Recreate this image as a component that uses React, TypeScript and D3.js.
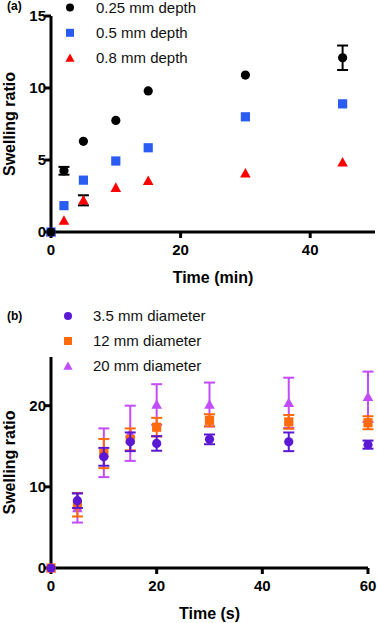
import React from "react";
import * as d3 from "d3";

// ---- Panel (a) data ----
const timesA = [0, 2, 5, 10, 15, 30, 45];
const depth025 = [0, 4.25, 6.3, 7.75, 9.8, 10.9, 12.1];
const depth025Err = [0, 0.27, 0, 0, 0, 0, 0.85];
const depth05 = [0, 1.83, 3.6, 4.93, 5.85, 8.0, 8.9];
const depth05Err = [0, 0, 0, 0, 0, 0, 0];
const depth08 = [0, 0.8, 2.2, 3.08, 3.56, 4.07, 4.84];
const depth08Err = [0, 0, 0.35, 0, 0, 0, 0];
const seriesNamesA = ["0.25 mm depth", "0.5 mm depth", "0.8 mm depth"];
const xTicksA = [0, 20, 40];
const yTicksA = [0, 5, 10, 15];

// ---- Panel (b) data ----
const timesB = [0, 5, 10, 15, 20, 30, 45, 60];
const diam35 = [0, 8.3, 13.7, 15.55, 15.35, 15.85, 15.55, 15.2];
const diam35Err = [0, 0.9, 1.1, 1.15, 0.9, 0.6, 1.15, 0.5];
const diam12 = [0, 7.8, 14.1, 15.85, 17.35, 18.2, 18.0, 17.9];
const diam12Err = [0, 1.45, 1.8, 1.35, 1.15, 0.75, 0.85, 0.8];
const diam20 = [0, 7.4, 14.2, 16.6, 20.15, 20.15, 20.35, 21.1];
const diam20Err = [0, 1.8, 3.0, 3.4, 2.5, 2.7, 3.1, 3.1];
const seriesNamesB = ["3.5 mm diameter", "12 mm diameter", "20 mm diameter"];
const xTicksB = [0, 20, 40, 60];
const yTicksB = [0, 10, 20];

const FONT = "'Liberation Sans', Arial, sans-serif";

type Shape = "circle" | "square" | "triangle";

function Marker({ shape, x, y, color, size = 4.6 }: { shape: Shape; x: number; y: number; color: string; size?: number }) {
  if (shape === "circle") return <circle cx={x} cy={y} r={size} fill={color} />;
  if (shape === "square")
    return <rect x={x - size} y={y - size} width={size * 2} height={size * 2} fill={color} />;
  const s = size * 1.15;
  return <path d={`M${x},${y - s}L${x + s},${y + s * 0.8}L${x - s},${y + s * 0.8}Z`} fill={color} />;
}

interface Series {
  values: number[];
  errs: number[];
  color: string;
  errColor: string;
  shape: Shape;
  name: string;
}

function Panel({
  label, labelY, times, series, xDomain, xRange, yDomain, yRange, xTicks, yTicks, xTitle, legendX, legendTextX, legendY, legendGap,
}: {
  label: string; labelY: number; times: number[]; series: Series[];
  xDomain: [number, number]; xRange: [number, number]; yDomain: [number, number]; yRange: [number, number];
  xTicks: number[]; yTicks: number[]; xTitle: string; legendX: number; legendTextX: number; legendY: number; legendGap: number;
}) {
  const x = d3.scaleLinear().domain(xDomain).range(xRange);
  const y = d3.scaleLinear().domain(yDomain).range(yRange);
  const y0 = y(0);
  const x0 = x(0);
  const cap = 5.5;
  const drawOrder = [...series].reverse();
  return (
    <g>
      <text x={7} y={labelY} fontFamily={FONT} fontWeight="bold" fontSize={12} dominantBaseline="middle">{label}</text>
      {/* legend */}
      {series.map((s, i) => (
        <g key={s.name}>
          <Marker shape={s.shape} x={legendX} y={legendY + i * legendGap} color={s.color} size={4} />
          <text x={legendTextX} y={legendY + i * legendGap} dy="0.35em" fontFamily={FONT} fontSize={15} fill="#111">{s.name}</text>
        </g>
      ))}
      {/* axes */}
      <line x1={x0} x2={x0} y1={yRange[1]} y2={y0 + 1.5} stroke="#000" strokeWidth={3} />
      <line x1={x0 - 1.5} x2={xRange[1]} y1={y0} y2={y0} stroke="#000" strokeWidth={3} />
      {yTicks.map((t) => (
        <g key={"y" + t}>
          <line x1={x0 - 6} x2={x0} y1={y(t)} y2={y(t)} stroke="#000" strokeWidth={3} />
          <text x={x0 - 5} y={y(t)} dy="0.36em" textAnchor="end" fontFamily={FONT} fontWeight="bold" fontSize={15}>{t}</text>
        </g>
      ))}
      {xTicks.map((t) => (
        <g key={"x" + t}>
          <line x1={x(t)} x2={x(t)} y1={y0} y2={y0 + 6} stroke="#000" strokeWidth={3} />
          <text x={x(t)} y={y0 + 18} dy="0.36em" textAnchor="middle" fontFamily={FONT} fontWeight="bold" fontSize={15}>{t}</text>
        </g>
      ))}
      <text x={(xRange[0] + xRange[1]) / 2} y={y0 + 45} dy="0.36em" textAnchor="middle" fontFamily={FONT} fontWeight="bold" fontSize={16}>{xTitle}</text>
      <text transform={`translate(15,${(yRange[0] + yRange[1]) / 2}) rotate(-90)`} textAnchor="middle" fontFamily={FONT} fontWeight="bold" fontSize={16}>Swelling ratio</text>
      {/* data */}
      {drawOrder.map((s) => (
        <g key={"d" + s.name}>
          {times.map((t, i) => {
            const e = s.errs[i];
            if (!e) return null;
            const cx = x(t);
            return (
              <g key={i} stroke={s.errColor} strokeWidth={2}>
                <line x1={cx} x2={cx} y1={y(s.values[i] - e)} y2={y(s.values[i] + e)} />
                <line x1={cx - cap} x2={cx + cap} y1={y(s.values[i] - e)} y2={y(s.values[i] - e)} />
                <line x1={cx - cap} x2={cx + cap} y1={y(s.values[i] + e)} y2={y(s.values[i] + e)} />
              </g>
            );
          })}
          {times.map((t, i) => (
            <Marker key={"m" + i} shape={s.shape} x={x(t)} y={y(s.values[i])} color={s.color} />
          ))}
        </g>
      ))}
    </g>
  );
}

export default function App() {
  const seriesA: Series[] = [
    { values: depth025, errs: depth025Err, color: "#000000", errColor: "#000", shape: "circle", name: seriesNamesA[0] },
    { values: depth05, errs: depth05Err, color: "#2b5cf2", errColor: "#000", shape: "square", name: seriesNamesA[1] },
    { values: depth08, errs: depth08Err, color: "#ff0000", errColor: "#000", shape: "triangle", name: seriesNamesA[2] },
  ];
  const seriesB: Series[] = [
    { values: diam35, errs: diam35Err, color: "#5a18d4", errColor: "#5a18d4", shape: "circle", name: seriesNamesB[0] },
    { values: diam12, errs: diam12Err, color: "#ff6a0d", errColor: "#ff6a0d", shape: "square", name: seriesNamesB[1] },
    { values: diam20, errs: diam20Err, color: "#c24cfa", errColor: "#c24cfa", shape: "triangle", name: seriesNamesB[2] },
  ];
  return (
    <svg width={377} height={623} style={{ position: "absolute", left: 0, top: 0, background: "#fff" }}>
      <Panel label="(a)" labelY={7} times={timesA} series={seriesA} xDomain={[0, 50]} xRange={[51, 375]} yDomain={[0, 15]} yRange={[232, 16]}
        xTicks={xTicksA} yTicks={yTicksA} xTitle="Time (min)" legendX={70} legendTextX={96} legendY={7.5} legendGap={25.3} />
      <Panel label="(b)" labelY={317} times={timesB} series={seriesB} xDomain={[0, 60]} xRange={[51, 368]} yDomain={[0, 26]} yRange={[568, 357]}
        xTicks={xTicksB} yTicks={yTicksB} xTitle="Time (s)" legendX={68} legendTextX={93} legendY={316} legendGap={25} />
    </svg>
  );
}
